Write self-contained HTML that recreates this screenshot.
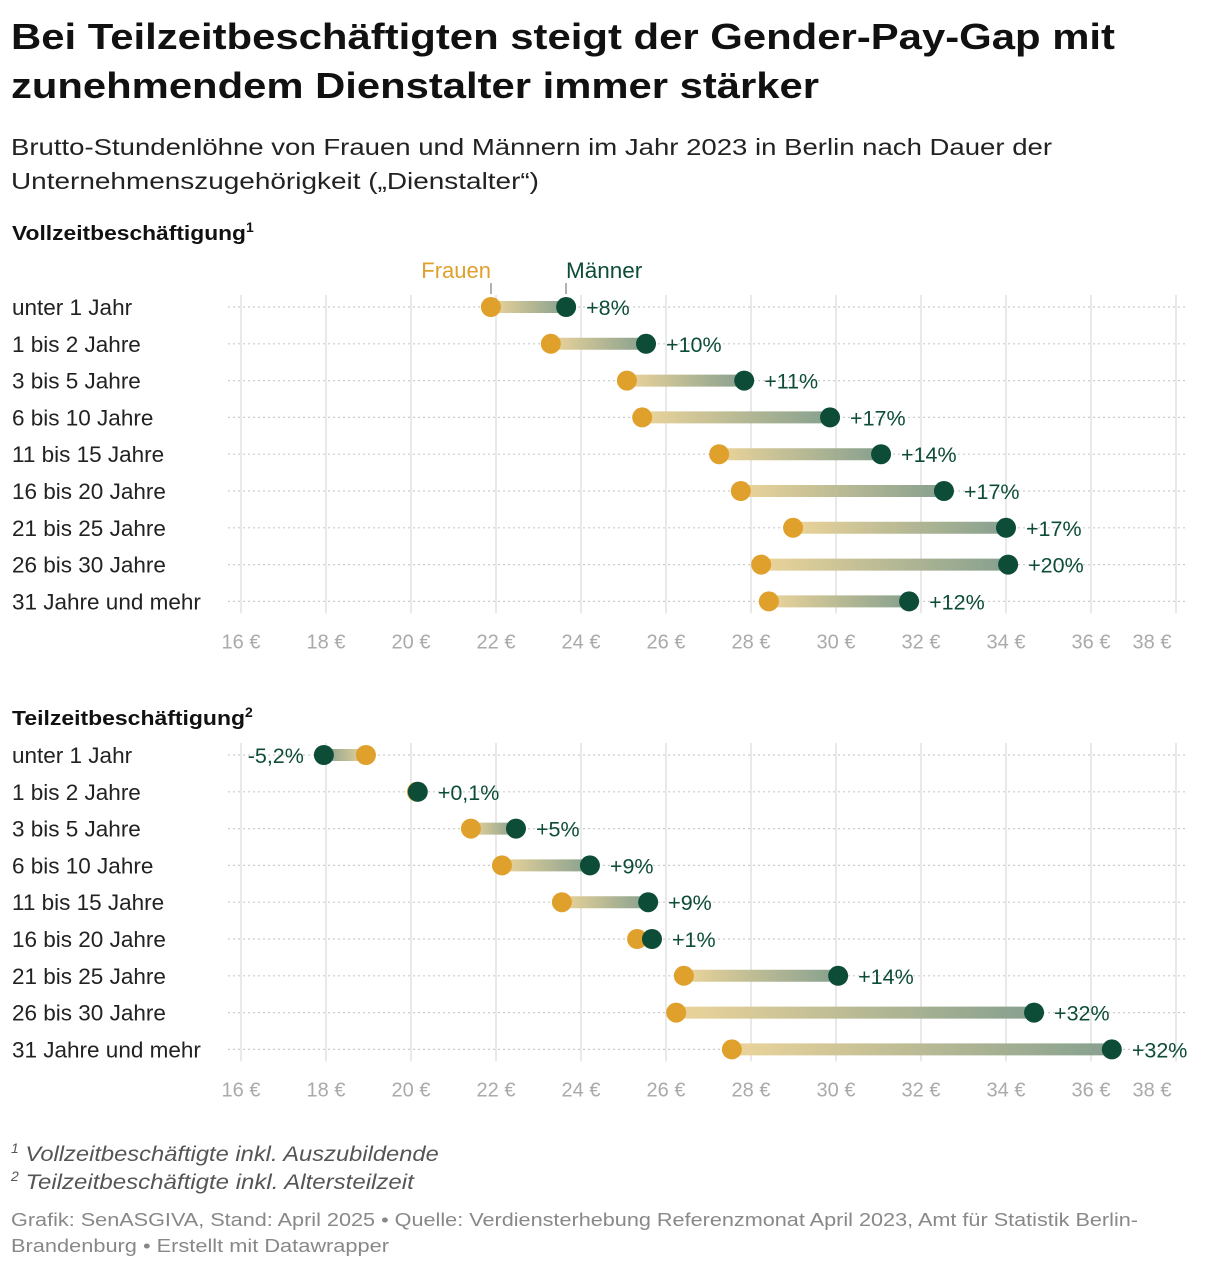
<!DOCTYPE html>
<html><head><meta charset="utf-8"><style>
body{margin:0;background:#fff;}
svg text{font-family:"Liberation Sans",sans-serif;}
</style></head><body>
<svg id="s" width="1220" height="1270" xmlns="http://www.w3.org/2000/svg">
<defs id="defs"></defs>
<text x="11" y="49" font-size="36" font-weight="bold" fill="#111" textLength="1104" lengthAdjust="spacingAndGlyphs">Bei Teilzeitbeschäftigten steigt der Gender-Pay-Gap mit</text>
<text x="11" y="98" font-size="36" font-weight="bold" fill="#111" textLength="808" lengthAdjust="spacingAndGlyphs">zunehmendem Dienstalter immer stärker</text>
<text x="11" y="155" font-size="23" fill="#222" textLength="1041" lengthAdjust="spacingAndGlyphs">Brutto-Stundenlöhne von Frauen und Männern im Jahr 2023 in Berlin nach Dauer der</text>
<text x="11" y="189" font-size="23" fill="#222" textLength="528" lengthAdjust="spacingAndGlyphs">Unternehmenszugehörigkeit („Dienstalter“)</text>
<text x="12" y="240" font-size="20" font-weight="bold" fill="#111"><tspan textLength="234" lengthAdjust="spacingAndGlyphs">Vollzeitbeschäftigung</tspan><tspan font-size="14" dy="-8">1</tspan></text>
<text x="12" y="725" font-size="20" font-weight="bold" fill="#111"><tspan textLength="233" lengthAdjust="spacingAndGlyphs">Teilzeitbeschäftigung</tspan><tspan font-size="14" dy="-8">2</tspan></text>
<text x="491" y="278" font-size="22" fill="#e0a02c" text-anchor="end">Frauen</text>
<line x1="491" y1="283" x2="491" y2="294" stroke="#999" stroke-width="1.5"/>
<text x="566" y="278" font-size="22.5" fill="#0d4d37">Männer</text>
<line x1="566" y1="283" x2="566" y2="294" stroke="#999" stroke-width="1.5"/>
<g id="g1"></g><g id="g2"></g>
<text x="11" y="1161" font-size="21" font-style="italic" fill="#555"><tspan font-size="14" dy="-8">1</tspan><tspan dy="8" textLength="420" lengthAdjust="spacingAndGlyphs"> Vollzeitbeschäftigte inkl. Auszubildende</tspan></text>
<text x="11" y="1189" font-size="21" font-style="italic" fill="#555"><tspan font-size="14" dy="-8">2</tspan><tspan dy="8" textLength="395" lengthAdjust="spacingAndGlyphs"> Teilzeitbeschäftigte inkl. Altersteilzeit</tspan></text>
<text x="11" y="1226" font-size="18" fill="#888" textLength="1127" lengthAdjust="spacingAndGlyphs">Grafik: SenASGIVA, Stand: April 2025 • Quelle: Verdiensterhebung Referenzmonat April 2023, Amt für Statistik Berlin-</text>
<text x="11" y="1252" font-size="18" fill="#888" textLength="378" lengthAdjust="spacingAndGlyphs">Brandenburg • Erstellt mit Datawrapper</text>
</svg>
<script>
const categories=["unter 1 Jahr","1 bis 2 Jahre","3 bis 5 Jahre","6 bis 10 Jahre","11 bis 15 Jahre","16 bis 20 Jahre","21 bis 25 Jahre","26 bis 30 Jahre","31 Jahre und mehr"];
const vzFrauen=[21.88,23.29,25.08,25.44,27.25,27.76,28.99,28.24,28.42];
const vzMaenner=[23.65,25.53,27.84,29.86,31.06,32.54,34.0,34.05,31.72];
const vzLabels=["+8%","+10%","+11%","+17%","+14%","+17%","+17%","+20%","+12%"];
const tzFrauen=[18.94,20.14,21.41,22.14,23.55,25.32,26.42,26.24,27.55];
const tzMaenner=[17.95,20.16,22.47,24.21,25.58,25.67,30.05,34.66,36.49];
const tzLabels=["-5,2%","+0,1%","+5%","+9%","+9%","+1%","+14%","+32%","+32%"];
const ticks=[16,18,20,22,24,26,28,30,32,34,36,38];
const NS="http://www.w3.org/2000/svg";
const x=v=>241+(v-16)*42.5;
const defs=document.getElementById('defs');
function mk(p,t,a){const e=document.createElementNS(NS,t);for(const k in a)e.setAttribute(k,a[k]);p.appendChild(e);return e;}
function panel(g,id,top,F,M,L){
  const y=i=>top+i*36.8;
  ticks.forEach(t=>{
    const l=mk(g,'line',{x1:x(t),x2:x(t),y1:top-12,y2:y(8)+12,stroke:'#e2e2e2','stroke-width':1.5});
    
    
    const tx=mk(g,'text',{x:t===38?x(t)-24:x(t),y:y(8)+47,'font-size':20,fill:'#aaa','text-anchor':'middle'});
    tx.textContent=t+' €';
    
    
  });
  categories.forEach((c,i)=>{
    const yy=y(i);
    const hl=mk(g,'line',{x1:228,x2:1186,y1:yy,y2:yy,stroke:'#ccc','stroke-width':1.2,'stroke-dasharray':'2,3'});
    
    
    const lt=mk(g,'text',{x:12,y:yy+8,'font-size':22.5,fill:'#222'});
    lt.textContent=c;
    
    
    const xf=x(F[i]),xm=x(M[i]);
    const gid=id+i;
    const gr=mk(defs,'linearGradient',{id:gid,gradientUnits:'userSpaceOnUse',x1:xf,x2:xm,y1:0,y2:0});
    mk(gr,'stop',{offset:0,'stop-color':'#ecd49a'});
    mk(gr,'stop',{offset:1,'stop-color':'#86a08f'});
    if(Math.abs(xm-xf)>2){
      const bar=mk(g,'line',{x1:xf,x2:xm,y1:yy,y2:yy,stroke:'url(#'+gid+')','stroke-width':12});
      
      
    }
    const df=mk(g,'circle',{cx:xf,cy:yy,r:10,fill:'#e0a02c'});
    
    
    const dm=mk(g,'circle',{cx:xm,cy:yy,r:10,fill:'#0d4d37'});
    
    
    const left=M[i]<F[i];
    const vl=mk(g,'text',{x:left?xm-20:Math.max(xm,xf)+20,y:yy+8,'font-size':21.5,fill:'#0d4d37','text-anchor':left?'end':'start'});
    vl.textContent=L[i];
    
    
  });
}
panel(document.getElementById('g1'),'a',307,vzFrauen,vzMaenner,vzLabels);
panel(document.getElementById('g2'),'b',755,tzFrauen,tzMaenner,tzLabels);
</script>
</body></html>
